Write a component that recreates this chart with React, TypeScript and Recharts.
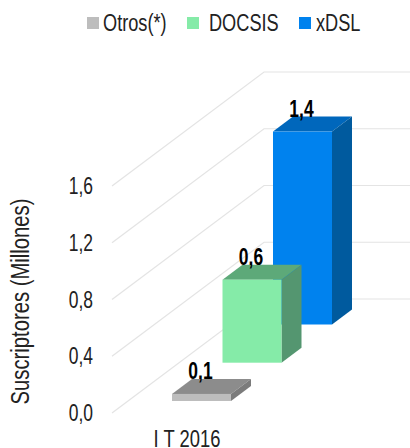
import { BarChart, Bar, XAxis, YAxis, CartesianGrid, Legend, LabelList } from 'recharts';

const categories = ['I T 2016'];
const otros = [0.05];
const docsis = [0.585];
const xdsl = [1.36];
const yTicks = [0, 0.4, 0.8, 1.2, 1.6];

const data = categories.map((c, i) => ({ cat: c, otros: otros[i], docsis: docsis[i], xdsl: xdsl[i] }));

// nao tem a Narrow instalada, entao aperta a Liberation Sans na horizontal
const FONT = '"Liberation Sans", Arial, sans-serif';
const TEXT = '#222';
const coma = (v: number) => v.toFixed(1).replace('.', ',');

// cada serie fica num plano de profundidade, como no 3D do excel
const BAR_W = 59;
const BOX_DX = 20;
const BOX_DY = 15;
const planes = {
  otros: { dx: 14, dy: 12 },
  docsis: { dx: 64.5, dy: 50.3 },
  xdsl: { dx: 115, dy: 88.5 },
};
const colors = {
  otros: { front: '#BDBDBD', top: '#8C8C8C', side: '#7B7B7B' },
  docsis: { front: '#85EBA8', top: '#5DA979', side: '#549670' },
  xdsl: { front: '#0082EE', top: '#0067BC', side: '#005A9E' },
};
type Key = keyof typeof planes;

const legendItems = [
  { label: 'Otros(*)', color: colors.otros.front, box: 87, text: 103 },
  { label: 'DOCSIS', color: colors.docsis.front, box: 187, text: 209 },
  { label: 'xDSL', color: colors.xdsl.front, box: 299, text: 316 },
];

const Box3D = (key: Key) => (p: any) => {
  const { dx, dy } = planes[key];
  const c = colors[key];
  const x = p.x + dx;
  const y = p.y - dy;
  const r = x + p.width;
  const b = y + p.height;
  return (
    <g>
      <polygon points={`${x},${y} ${x + BOX_DX},${y - BOX_DY} ${r + BOX_DX},${y - BOX_DY} ${r},${y}`} fill={c.top} />
      <polygon points={`${r},${y} ${r + BOX_DX},${y - BOX_DY} ${r + BOX_DX},${b - BOX_DY} ${r},${b}`} fill={c.side} />
      <rect x={x} y={y} width={p.width} height={p.height} fill={c.front} />
    </g>
  );
};

const BarLabel = (key: Key) => (p: any) => {
  const { dx, dy } = planes[key];
  const cx = p.x + dx + p.width / 2 - 1;
  const by = p.y - dy - 15;
  return (
    <text
      transform={`translate(${cx},${by}) scale(0.76,1)`}
      textAnchor="middle"
      fontFamily={FONT}
      fontWeight={700}
      fontSize={23}
      fill="#000"
    >
      {coma(Number(p.value))}
    </text>
  );
};

const YTick = (p: any) => (
  <text
    transform={`translate(93,${p.y + 8}) scale(0.76,1)`}
    textAnchor="end"
    fontFamily={FONT}
    fontSize={23}
    fill={TEXT}
  >
    {coma(p.payload.value)}
  </text>
);

const XTick = (p: any) => (
  <text
    transform={`translate(${p.x},${p.y + 26}) scale(0.8,1)`}
    textAnchor="middle"
    fontFamily={FONT}
    fontSize={23}
    fill={TEXT}
  >
    {p.payload.value}
  </text>
);

const YTitle = (p: any) => (
  <text
    transform={`translate(29,${p.viewBox.y + p.viewBox.height / 2 + 2}) rotate(-90) scale(0.81,1)`}
    textAnchor="middle"
    fontFamily={FONT}
    fontSize={25}
    fill={TEXT}
  >
    Suscriptores (Millones)
  </text>
);

// linha obliqua ate a parede do fundo e depois horizontal
const GridLine = (p: any) => (
  <polyline
    key={p.key}
    points={`${p.x1},${p.y1} ${p.x1 + 152},${p.y1 - 114} 410,${p.y1 - 114}`}
    fill="none"
    stroke="#E4E4E4"
    strokeWidth={1.2}
  />
);

const LegendBox = () => (
  <div style={{ position: 'relative', width: 410, height: 46, fontFamily: FONT, fontSize: 23, color: TEXT }}>
    {legendItems.map((it) => (
      <div key={it.label}>
        <div style={{ position: 'absolute', left: it.box, top: 17, width: 12, height: 12, background: it.color }} />
        <div
          style={{
            position: 'absolute',
            left: it.text,
            top: 11,
            lineHeight: '24px',
            whiteSpace: 'nowrap',
            transform: 'scaleX(0.79)',
            transformOrigin: 'left',
          }}
        >
          {it.label}
        </div>
      </div>
    ))}
  </div>
);

export default function App() {
  return (
    <div style={{ position: 'absolute', left: 0, top: 0, width: 410, height: 448, overflow: 'hidden' }}>
      <BarChart
        width={410}
        height={448}
        data={data}
        barSize={BAR_W}
        barGap={-BAR_W}
        margin={{ top: 186, right: 148, left: 0, bottom: 0 }}
      >
        <CartesianGrid vertical={false} horizontal={GridLine} />
        <XAxis dataKey="cat" axisLine={false} tickLine={false} height={35} tick={XTick} />
        <YAxis
          width={112}
          domain={[0, 1.6]}
          ticks={yTicks}
          axisLine={false}
          tickLine={false}
          tick={YTick}
          label={{ content: YTitle }}
        />
        <Legend
          layout="horizontal"
          verticalAlign="middle"
          wrapperStyle={{ top: 0, left: 0, width: 410 }}
          content={LegendBox}
        />
        <Bar dataKey="xdsl" isAnimationActive={false} shape={Box3D('xdsl')}>
          <LabelList dataKey="xdsl" content={BarLabel('xdsl')} />
        </Bar>
        <Bar dataKey="docsis" isAnimationActive={false} shape={Box3D('docsis')}>
          <LabelList dataKey="docsis" content={BarLabel('docsis')} />
        </Bar>
        <Bar dataKey="otros" isAnimationActive={false} shape={Box3D('otros')}>
          <LabelList dataKey="otros" content={BarLabel('otros')} />
        </Bar>
      </BarChart>
    </div>
  );
}
